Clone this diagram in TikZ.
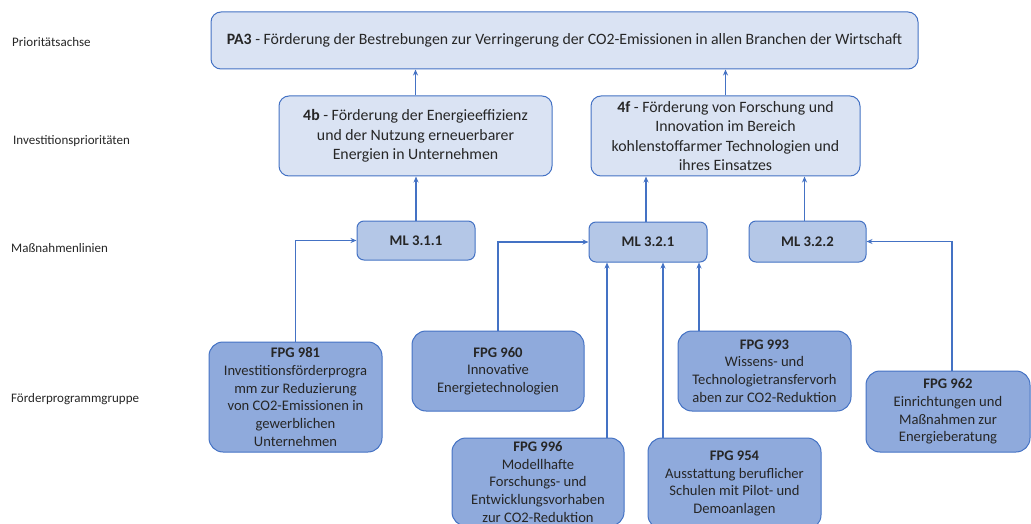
\documentclass[tikz,border=0pt]{standalone}
\usepackage{fontspec}
\setmainfont{Carlito}
\usetikzlibrary{arrows.meta}
\definecolor{bordc}{HTML}{4472C4}
\definecolor{lightc}{HTML}{DAE3F3}
\definecolor{midc}{HTML}{B4C7E7}
\definecolor{darkc}{HTML}{8FAADC}
\definecolor{txtc}{HTML}{262626}
\tikzset{
  base/.style={draw=bordc, line width=1pt, align=center, text=txtc, inner sep=0pt},
  topbox/.style={base, fill=lightc, rounded corners=10pt, font=\fontsize{15.8}{19.3}\selectfont},
  mlbox/.style={base, fill=midc, rounded corners=7pt, font=\fontsize{14.7}{17}\selectfont\bfseries},
  fpgbox/.style={base, fill=darkc, rounded corners=14pt, font=\fontsize{14.6}{17.7}\selectfont},
  rowlabel/.style={anchor=west, text=txtc, inner sep=0pt, font=\fontsize{13}{15}\selectfont},
  arr/.style={draw=bordc, line width=1.5pt, -{Stealth[length=6pt,width=5pt]}},
}
\begin{document}
\begin{tikzpicture}[x=1pt,y=-1pt]
\useasboundingbox (0,0) rectangle (1031,524);
\clip (0,0) rectangle (1031,524);
% row labels
\node[rowlabel] (lab1) at (12,42) {Prioritätsachse};
\node[rowlabel] (lab2) at (13,141) {Investitionsprioritäten};
\node[rowlabel] (lab3) at (11,248) {Maßnahmenlinien};
\node[rowlabel] (lab4) at (11,399) {Förderprogrammgruppe};
% top level
\node[topbox, minimum width=707, minimum height=57] (pa3) at (564.5,40.5)
  {\textbf{PA3} - Förderung der Bestrebungen zur Verringerung der CO2-Emissionen in allen Branchen der Wirtschaft};
\node[topbox, minimum width=273, minimum height=80] (b4) at (415.5,136)
  {\textbf{4b} - Förderung der Energieeffizienz\\und der Nutzung erneuerbarer\\Energien in Unternehmen};
\node[topbox, minimum width=269, minimum height=80] (f4) at (725.5,136)
  {\textbf{4f} - Förderung von Forschung und\\Innovation im Bereich\\kohlenstoffarmer Technologien und\\ihres Einsatzes};
% ML
\node[mlbox, minimum width=118, minimum height=39] (ml311) at (416,240.5) {ML 3.1.1};
\node[mlbox, minimum width=118, minimum height=40] (ml321) at (648,242) {ML 3.2.1};
\node[mlbox, minimum width=117, minimum height=41] (ml322) at (807.5,241.5) {ML 3.2.2};
% FPG
\node[fpgbox, minimum width=173, minimum height=110] (f981) at (295.5,397)
  {\textbf{FPG 981}\\Investitionsförderprogra\\mm zur Reduzierung\\von CO2-Emissionen in\\gewerblichen\\Unternehmen};
\node[fpgbox, minimum width=172, minimum height=80] (f960) at (498,371)
  {\textbf{FPG 960}\\Innovative\\Energietechnologien};
\node[fpgbox, minimum width=172, minimum height=88] (f996) at (538,482)
  {\textbf{FPG 996}\\Modellhafte\\Forschungs- und\\Entwicklungsvorhaben\\zur CO2-Reduktion};
\node[fpgbox, minimum width=173, minimum height=80] (f993) at (764.5,371)
  {\textbf{FPG 993}\\Wissens- und\\Technologietransfervorh\\aben zur CO2-Reduktion};
\node[fpgbox, minimum width=173, minimum height=91] (f954) at (734.5,483.5)
  {\textbf{FPG 954}\\Ausstattung beruflicher\\Schulen mit Pilot- und\\Demoanlagen};
\node[fpgbox, minimum width=164, minimum height=81] (f962) at (948,411.5)
  {\textbf{FPG 962}\\Einrichtungen und\\Maßnahmen zur\\Energieberatung};
% connectors
\draw[arr] (b4.north) -- (b4.north |- pa3.south);
\draw[arr] (f4.north) -- (f4.north |- pa3.south);
\draw[arr] (ml311.north) -- (ml311.north |- b4.south);
\draw[arr] ([xshift=-2]ml321.north) -- ([xshift=-2]ml321.north |- f4.south);
\draw[arr] ([xshift=-3]ml322.north) -- ([xshift=-3]ml322.north |- f4.south);
\draw[arr] (f981.north) |- (ml311.west);
\draw[arr] (f960.north) |- (ml321.west);
\draw[arr] ([xshift=69]f996.north) -- ([xshift=69]f996.north |- ml321.south);
\draw[arr] ([xshift=-65.5]f993.north) -- ([xshift=-65.5]f993.north |- ml321.south);
\draw[arr] ([xshift=-71.5]f954.north) -- ([xshift=-71.5]f954.north |- ml321.south);
\draw[arr] ([xshift=4]f962.north) |- (ml322.east);
\end{tikzpicture}
\end{document}
